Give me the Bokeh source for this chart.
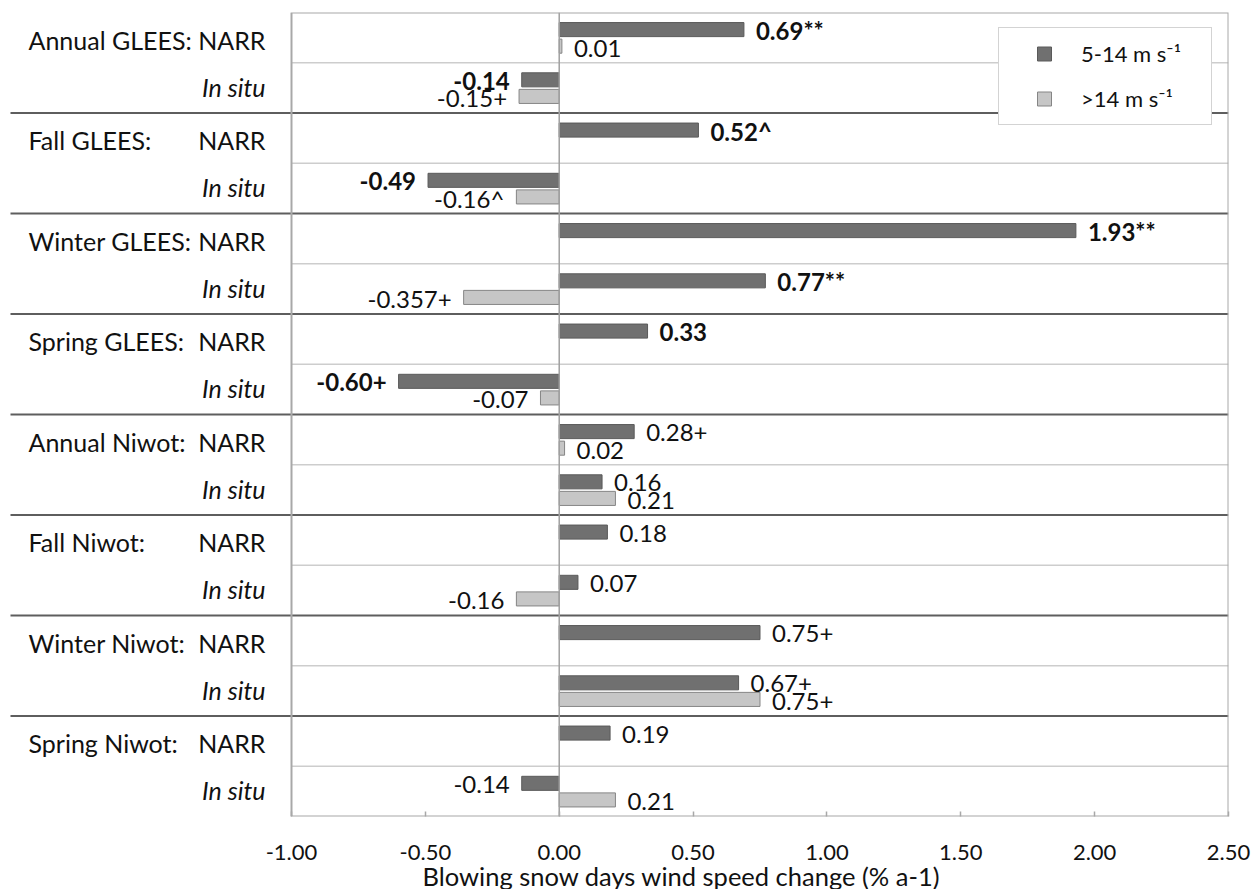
from bokeh.plotting import figure
from bokeh.models import (ColumnDataSource, FixedTicker, NumeralTickFormatter,
                          Legend, LegendItem, Range1d, Title)
from bokeh.core.properties import value
from bokeh.embed import file_html
from bokeh.resources import INLINE

# ---------------- data ----------------
groups = ["Annual GLEES:", "Fall GLEES:", "Winter GLEES:", "Spring GLEES:",
          "Annual Niwot:", "Fall Niwot:", "Winter Niwot:", "Spring Niwot:"]
sources = ["NARR", "In situ"]

dark_vals = [0.69, -0.14, 0.52, -0.49, 1.93, 0.77, 0.33, -0.60,
             0.28, 0.16, 0.18, 0.07, 0.75, 0.67, 0.19, -0.14]
dark_labels = ["0.69**", "-0.14", "0.52^", "-0.49", "1.93**", "0.77**", "0.33", "-0.60+",
               "0.28+", "0.16", "0.18", "0.07", "0.75+", "0.67+", "0.19", "-0.14"]
dark_bold = [True, True, True, True, True, True, True, True,
             False, False, False, False, False, False, False, False]

light_vals = [0.01, -0.15, None, -0.16, None, -0.357, None, -0.07,
              0.02, 0.21, None, -0.16, None, 0.75, None, 0.21]
light_labels = ["0.01", "-0.15+", "", "-0.16^", "", "-0.357+", "", "-0.07",
                "0.02", "0.21", "", "-0.16", "", "0.75+", "", "0.21"]

x_ticks = [-1.0, -0.5, 0.0, 0.5, 1.0, 1.5, 2.0, 2.5]
series_names = ["5-14 m s\u207b\u00b9", ">14 m s\u207b\u00b9"]
x_title = "Blowing snow days wind speed change (% a-1)"

# ---------------- styling / layout ----------------
DARK = "#707070"
DARK_LINE = "#5a5a5a"
LIGHT = "#c6c6c6"
LIGHT_LINE = "#858585"
BOX = "#a8a8a8"
FONT = "Lato"
TXT = "#111111"

W, H = 1251, 889
LABEL_W = 291          # px of label area left of the plotting box
RIGHT_PAD = 23
TOP_PAD = 12
BOTTOM_PAD = 73
PLOT_W = W - LABEL_W - RIGHT_PAD
x_lo, x_hi = x_ticks[0], x_ticks[-1]
px_per_unit = PLOT_W / (x_hi - x_lo)
x_start = x_lo - LABEL_W / px_per_unit

n_rows = len(groups) * len(sources)
rows = list(range(n_rows))
row_c = [r + 0.5 for r in rows]
BAR_H = 0.28
DY_DARK = -0.16
DY_LIGHT = 0.17

p = figure(width=W, height=H, output_backend="svg", toolbar_location=None,
           x_range=Range1d(x_start, x_hi), y_range=Range1d(n_rows, 0),
           y_axis_location=None,
           min_border_left=0, min_border_right=RIGHT_PAD,
           min_border_top=TOP_PAD, min_border_bottom=BOTTOM_PAD)
p.background_fill_color = "white"
p.border_fill_color = "white"
p.outline_line_color = None
p.xgrid.visible = False
p.ygrid.visible = False

# light inner row lines (inside plotting box)
inner = [r for r in range(1, n_rows, 2)]
p.segment(x0=[x_lo] * len(inner), x1=[x_hi] * len(inner), y0=inner, y1=inner,
          line_color="#cdcdcd", line_width=1.5)

# dark group separators, running into the label area
seps = [g * len(sources) for g in range(1, len(groups))]
sep_x0 = x_start + 10 / px_per_unit
p.segment(x0=[sep_x0] * len(seps), x1=[x_hi] * len(seps), y0=seps, y1=seps,
          line_color="#5e5e5e", line_width=2)

# bars
dsrc = ColumnDataSource(dict(y=[c + DY_DARK for c in row_c], v=dark_vals))
p.hbar(y="y", left=0, right="v", height=BAR_H, source=dsrc,
       fill_color=DARK, line_color=DARK_LINE, line_width=1)

li = [i for i, v in enumerate(light_vals) if v is not None]
lsrc = ColumnDataSource(dict(y=[row_c[i] + DY_LIGHT for i in li], v=[light_vals[i] for i in li]))
p.hbar(y="y", left=0, right="v", height=BAR_H, source=lsrc,
       fill_color=LIGHT, line_color=LIGHT_LINE, line_width=1)

# zero line
p.segment(x0=[0], x1=[0], y0=[0], y1=[n_rows], line_color="#a0a0a0", line_width=1.5)

# plotting box
p.quad(left=[x_lo], right=[x_hi], top=[0], bottom=[n_rows], fill_color=None,
       line_color=BOX, line_width=2)

# value labels
OFF = 12
dl = ColumnDataSource(dict(
    x=dark_vals, y=[c + DY_DARK for c in row_c], t=dark_labels,
    align=["left" if v >= 0 else "right" for v in dark_vals],
    xo=[OFF if v >= 0 else -OFF for v in dark_vals],
    st=["bold" if b else "normal" for b in dark_bold]))
p.text(x="x", y="y", text="t", source=dl, text_align="align", x_offset="xo", y_offset=1,
       text_baseline="middle", text_font=value(FONT), text_font_size="24px",
       text_font_style="st", text_color=TXT)

ll = ColumnDataSource(dict(
    x=[light_vals[i] for i in li], y=[row_c[i] + DY_LIGHT for i in li],
    t=[light_labels[i] for i in li],
    align=["left" if light_vals[i] >= 0 else "right" for i in li],
    xo=[OFF if light_vals[i] >= 0 else -OFF for i in li]))
p.text(x="x", y="y", text="t", source=ll, text_align="align", x_offset="xo", y_offset=2,
       text_baseline="middle", text_font=value(FONT), text_font_size="24px",
       text_color=TXT)

# category labels at left
narr_y = [row_c[g * len(sources)] for g in range(len(groups))]
situ_y = [row_c[g * len(sources) + 1] for g in range(len(groups))]
p.text(x=[x_start] * len(groups), y=narr_y, text=groups, x_offset=28, y_offset=2,
       text_align="left", text_baseline="middle", text_font=value(FONT),
       text_font_size="25px", text_color=TXT)
p.text(x=[x_lo] * len(groups), y=narr_y, text=[sources[0]] * len(groups), x_offset=-26,
       y_offset=2, text_align="right", text_baseline="middle", text_font=value(FONT),
       text_font_size="25px", text_color=TXT)
p.text(x=[x_lo] * len(groups), y=situ_y, text=[sources[1]] * len(groups), x_offset=-26,
       y_offset=-1, text_align="right", text_baseline="middle", text_font=value(FONT),
       text_font_size="25px", text_font_style="italic", text_color=TXT)

# x axis
ax = p.xaxis[0]
ax.ticker = FixedTicker(ticks=x_ticks)
ax.formatter = NumeralTickFormatter(format="0.00")
ax.major_tick_in = 5
ax.major_tick_out = 0
ax.minor_tick_line_color = None
ax.axis_line_color = None
ax.major_tick_line_color = BOX
ax.major_tick_line_width = 1.5
ax.major_label_standoff = 28
ax.major_label_text_font = FONT
ax.major_label_text_font_size = "22px"
ax.major_label_text_color = TXT

# axis title (placed under the plotting box as in the reference)
p.add_layout(Title(text=x_title, align="left", offset=422, standoff=-8,
                   text_font=FONT, text_font_size="25.5px", text_font_style="normal",
                   text_color=TXT), "below")

# legend
ld = p.scatter(x=dark_vals, y=row_c, marker="square", size=14, fill_color=DARK,
               line_color=DARK_LINE, visible=False)
lg = p.scatter(x=dark_vals, y=row_c, marker="square", size=14, fill_color=LIGHT,
               line_color=LIGHT_LINE, visible=False)
legend = Legend(items=[LegendItem(label=series_names[0], renderers=[ld]),
                       LegendItem(label=series_names[1], renderers=[lg])],
                location=(998, 691), orientation="vertical",
                padding=8, spacing=10, margin=0,
                glyph_width=74, glyph_height=35, label_standoff=0, label_width=122,
                label_text_font=FONT, label_text_font_size="22px", label_text_color=TXT,
                border_line_color=BOX, border_line_width=1.5,
                background_fill_color="white", background_fill_alpha=1.0)
p.add_layout(legend, "center")

open("out.html", "w").write(file_html(p, INLINE))
